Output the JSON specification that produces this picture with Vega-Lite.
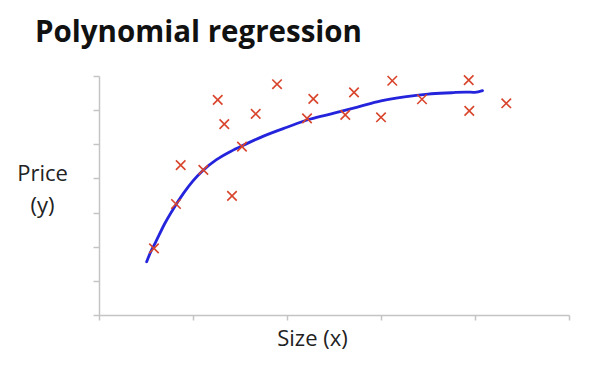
{
  "$schema": "https://vega.github.io/schema/vega-lite/v6.json",
  "autosize": "none",
  "width": 470,
  "height": 239,
  "padding": {"left": 99, "top": 76, "right": 30, "bottom": 60},
  "background": "white",
  "title": {
    "text": "Polynomial regression",
    "anchor": "start",
    "frame": "group",
    "font": "Open Sans",
    "fontWeight": "bold",
    "fontSize": 29.5,
    "color": "#111111",
    "baseline": "alphabetic",
    "offset": 0,
    "dy": -1,
    "dx": -64
  },
  "config": {
    "view": {"stroke": null},
    "axis": {
      "grid": false,
      "labels": false,
      "domainColor": "#c4c4c4",
      "tickColor": "#c4c4c4",
      "domainWidth": 1.5,
      "tickWidth": 1.5,
      "titleFont": "Open Sans",
      "titleFontWeight": "normal",
      "titleFontSize": 22,
      "titleColor": "#222222"
    }
  },
  "datasets": {
    "points": [
      {"size": 0.585, "price": 1.95},
      {"size": 0.819, "price": 3.25},
      {"size": 0.869, "price": 4.39},
      {"size": 1.11, "price": 4.25},
      {"size": 1.263, "price": 6.30},
      {"size": 1.333, "price": 5.59},
      {"size": 1.415, "price": 3.49},
      {"size": 1.521, "price": 4.93},
      {"size": 1.667, "price": 5.89},
      {"size": 1.894, "price": 6.76},
      {"size": 2.213, "price": 5.76},
      {"size": 2.280, "price": 6.33},
      {"size": 2.620, "price": 5.86},
      {"size": 2.713, "price": 6.52},
      {"size": 3.0, "price": 5.79},
      {"size": 3.12, "price": 6.86},
      {"size": 3.436, "price": 6.32},
      {"size": 3.933, "price": 6.88},
      {"size": 3.939, "price": 5.98},
      {"size": 4.333, "price": 6.20}
    ],
    "curve": [
      {"size": 0.507, "price": 1.56},
      {"size": 0.55, "price": 1.85},
      {"size": 0.6, "price": 2.12},
      {"size": 0.7, "price": 2.68},
      {"size": 0.8, "price": 3.15},
      {"size": 0.9, "price": 3.57},
      {"size": 1.0, "price": 3.93},
      {"size": 1.1, "price": 4.22},
      {"size": 1.25, "price": 4.55},
      {"size": 1.4, "price": 4.79},
      {"size": 1.55, "price": 4.99},
      {"size": 1.75, "price": 5.24},
      {"size": 2.0, "price": 5.5},
      {"size": 2.25, "price": 5.74},
      {"size": 2.5, "price": 5.91},
      {"size": 2.75, "price": 6.09},
      {"size": 3.0, "price": 6.27},
      {"size": 3.25, "price": 6.39},
      {"size": 3.5, "price": 6.47},
      {"size": 3.75, "price": 6.51},
      {"size": 3.9, "price": 6.53},
      {"size": 4.0, "price": 6.52},
      {"size": 4.08, "price": 6.57}
    ]
  },
  "encoding": {
    "x": {
      "field": "size", "type": "quantitative",
      "scale": {"domain": [0, 5], "nice": false, "zero": false},
      "axis": {"values": [0, 1, 2, 3, 4, 5], "tickSize": 5, "title": "Size (x)", "titleX": 213, "titleY": 30, "titleBaseline": "alphabetic", "titleAlign": "center"}
    },
    "y": {
      "field": "price", "type": "quantitative",
      "scale": {"domain": [0, 7], "nice": false, "zero": false},
      "axis": {"values": [0, 1, 2, 3, 4, 5, 6, 7], "tickSize": 6, "title": ["Price", "(y)"], "titleAngle": 0, "titleX": -57, "titleY": 104, "titleBaseline": "alphabetic", "titleAlign": "center", "titleLineHeight": 32}
    }
  },
  "layer": [
    {
      "data": {"name": "curve"},
      "mark": {"type": "line", "color": "#2424dc", "strokeWidth": 2.8, "interpolate": "monotone", "strokeCap": "round"}
    },
    {
      "data": {"name": "points"},
      "mark": {"type": "point", "shape": "M-1,-1L1,1M-1,1L1,-1", "size": 90, "stroke": "#d8452c", "strokeWidth": 1.6, "opacity": 1, "filled": false}
    }
  ]
}
